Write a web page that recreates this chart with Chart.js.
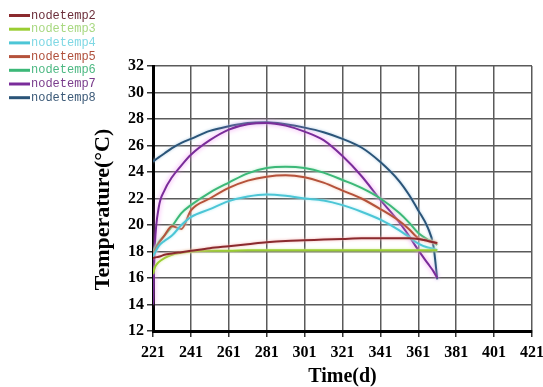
<!DOCTYPE html>
<html>
<head>
<meta charset="utf-8">
<script src="https://cdn.jsdelivr.net/npm/chart.js@4/dist/chart.umd.min.js"></script>
<style>
html,body{margin:0;padding:0;background:#fff;}
#wrap{width:543px;height:387px;position:relative;}
</style>
</head>
<body>
<div id="wrap"><canvas id="c" width="543" height="387"></canvas></div>
<script>
// ---- data ----
const days = [221, 222, 224, 227, 231, 236, 241, 251, 261, 271, 281, 291, 301, 311, 321, 331, 341, 351, 356, 361, 366, 369, 371];
const seriesNames = ['nodetemp2', 'nodetemp3', 'nodetemp4', 'nodetemp5', 'nodetemp6', 'nodetemp7', 'nodetemp8'];
const nodetemp2 = [17.5, 17.55, 17.6, 17.75, 17.85, 17.95, 18.05, 18.25, 18.4, 18.55, 18.7, 18.8, 18.85, 18.9, 18.95, 19.0, 19.0, 19.0, 19.0, 18.95, 18.8, 18.7, 18.65];
const nodetemp3 = [16.3, 16.8, 17.2, 17.5, 17.75, 17.9, 18.0, 18.05, 18.05, 18.1, 18.1, 18.1, 18.1, 18.1, 18.1, 18.1, 18.1, 18.1, 18.1, 18.1, 18.1, 18.1, 18.1];
const nodetemp4 = [17.6, 17.9, 18.4, 18.8, 19.2, 20.0, 20.6, 21.2, 21.8, 22.15, 22.3, 22.2, 22.0, 21.85, 21.5, 21.0, 20.4, 19.6, 19.1, 18.6, 18.3, 18.2, 18.1];
const nodetemp5 = [17.8, 18.1, 18.6, 19.2, 19.9, 19.7, 21.1, 22.0, 22.8, 23.35, 23.65, 23.75, 23.6, 23.2, 22.6, 22.0, 21.2, 20.3, 19.7, 19.0, 18.8, 18.7, 18.6];
const nodetemp6 = [17.9, 18.2, 18.7, 19.2, 19.9, 20.9, 21.5, 22.45, 23.2, 23.9, 24.3, 24.4, 24.3, 23.95, 23.4, 22.8, 22.0, 20.9, 20.2, 19.4, 18.9, 18.7, 18.5];
const nodetemp7 = [14.0, 18.5, 21.3, 22.6, 23.6, 24.5, 25.3, 26.4, 27.2, 27.6, 27.7, 27.5, 27.05, 26.4, 25.2, 23.7, 21.9, 20.2, 19.2, 18.1, 17.1, 16.5, 16.0];
const nodetemp8 = [24.8, 24.9, 25.1, 25.4, 25.8, 26.2, 26.5, 27.1, 27.45, 27.7, 27.75, 27.6, 27.35, 27.0, 26.5, 25.85, 24.75, 23.3, 22.3, 21.1, 19.8, 18.4, 15.9];
const xTicks = [221, 241, 261, 281, 301, 321, 341, 361, 381, 401, 421];
const yTicks = [12, 14, 16, 18, 20, 22, 24, 26, 28, 30, 32];

// ---- styles ----
const lineColors = ['#8b2a2e', '#9acd32', '#4cc6d6', '#b5523b', '#3cb878', '#7a2c9a', '#2a5478'];
const glowColors = ['#f3b0b0', '#d8f0a0', '#b0ecf4', '#f0c0a8', '#b0ecc8', '#f08cf0', '#a8c8e0'];
const legendText = ['#6b2e3a', '#a8d880', '#7fd8e4', '#b0503c', '#4cb882', '#7a3c8c', '#3c5a78'];
const allSeries = [nodetemp2, nodetemp3, nodetemp4, nodetemp5, nodetemp6, nodetemp7, nodetemp8];

const datasets = seriesNames.map((name, i) => ({
  label: name,
  data: days.map((d, k) => ({x: d, y: allSeries[i][k]})),
  borderColor: lineColors[i],
  backgroundColor: lineColors[i],
  borderWidth: 2,
  pointRadius: 0,
  cubicInterpolationMode: 'monotone',
  fill: false,
  glow: glowColors[i],
  legendColor: legendText[i]
}));

const glowPlugin = {
  id: 'glow',
  beforeDatasetDraw(chart, args) {
    const ds = chart.data.datasets[args.index];
    const ctx = chart.ctx;
    ctx.save();
    ctx.shadowColor = ds.glow;
    ctx.shadowBlur = args.index === 5 ? 5 : 3;
  },
  afterDatasetDraw(chart) {
    chart.ctx.restore();
  }
};

const legendPlugin = {
  id: 'customLegend',
  afterDraw(chart) {
    const ctx = chart.ctx;
    ctx.save();
    chart.data.datasets.forEach((ds, i) => {
      const y = 15.5 + i * 13.7;
      ctx.strokeStyle = ds.borderColor;
      ctx.lineWidth = 3;
      ctx.beginPath();
      ctx.moveTo(9, y);
      ctx.lineTo(30, y);
      ctx.stroke();
      ctx.fillStyle = ds.legendColor;
      ctx.font = '12px "Liberation Mono"';
      ctx.textBaseline = 'middle';
      ctx.textAlign = 'left';
      ctx.fillText(ds.label, 31, y);
    });
    ctx.restore();
  }
};

new Chart(document.getElementById('c'), {
  type: 'line',
  data: {datasets},
  plugins: [glowPlugin, legendPlugin],
  options: {
    responsive: false,
    animation: false,
    devicePixelRatio: 1,
    layout: {padding: {top: 66, right: 11, bottom: 0, left: 0}},
    plugins: {legend: {display: false}, tooltip: {enabled: false}},
    scales: {
      x: {
        type: 'linear',
        min: 221, max: 421,
        afterBuildTicks: s => { s.ticks = xTicks.map(v => ({value: v})); },
        afterFit: s => { s.height = 56; s.paddingLeft = 0; s.paddingRight = 0; },
        grid: {color: '#5a5a5a', lineWidth: 1.5, tickLength: 6, tickColor: '#333'},
        border: {color: '#000', width: 3},
        ticks: {color: '#000', padding: 6, maxRotation: 0, font: {family: '"Liberation Serif"', size: 16, weight: 'bold'}},
        title: {display: true, text: 'Time(d)', color: '#000', padding: {top: 0, bottom: 0}, font: {family: '"Liberation Serif"', size: 20, weight: 'bold', lineHeight: 1}}
      },
      y: {
        type: 'linear',
        min: 12, max: 32,
        afterBuildTicks: s => { s.ticks = yTicks.map(v => ({value: v})); },
        afterFit: s => { s.width = 153; s.paddingTop = 0; s.paddingBottom = 0; },
        grid: {color: '#5a5a5a', lineWidth: 1.5, tickLength: 6, tickColor: '#333'},
        border: {color: '#000', width: 3},
        ticks: {color: '#000', padding: 3, font: {family: '"Liberation Serif"', size: 16, weight: 'bold'}},
        title: {display: true, text: 'Temperature(°C)    ', color: '#000', padding: {top: 92, bottom: 0}, font: {family: '"Liberation Serif"', size: 22, weight: 'bold', lineHeight: 1}}
      }
    }
  }
});
</script>
</body>
</html>
